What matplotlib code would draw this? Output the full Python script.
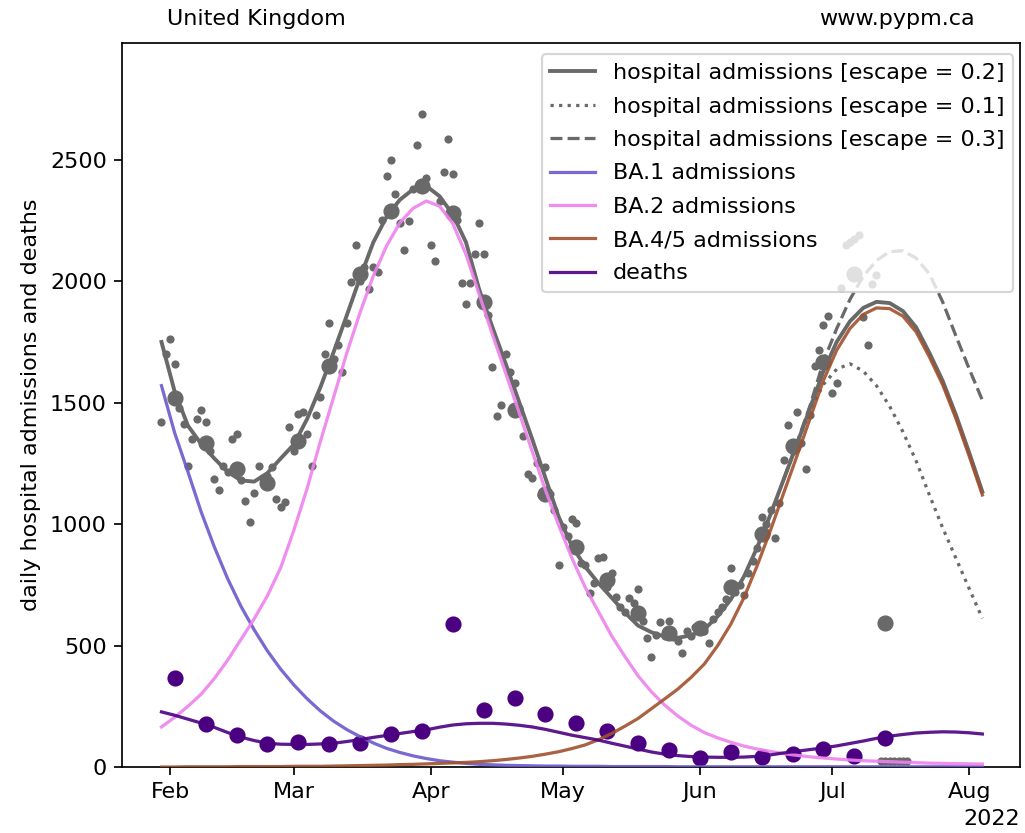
import numpy as np
import pandas as pd
import matplotlib
matplotlib.use("Agg")
import matplotlib.pyplot as plt
import matplotlib.dates as mdates

plt.rcParams['font.size'] = 10.35

model_dates = pd.date_range("2022-01-30", "2022-08-04", freq="3D")

hosp_esc02 = [1750, 1545, 1405, 1330, 1270, 1215, 1180, 1175, 1210, 1270,
              1328, 1433, 1563, 1708, 1860, 2015, 2160, 2265, 2335, 2378,
              2392, 2350, 2275, 2160, 1965, 1810, 1660, 1505, 1350, 1190,
              1030, 910, 825, 757, 697, 636, 582, 555, 537, 532,
              542, 567, 620, 690, 785, 905, 1040, 1185, 1330, 1480,
              1630, 1750, 1835, 1890, 1915, 1910, 1877, 1810, 1705, 1590,
              1450, 1295, 1133]

ba1_adm = [1570, 1375, 1215, 1050, 905, 775, 662, 565, 478, 403,
           338, 281, 231, 189, 154, 125, 99, 77, 60, 46,
           35, 26, 20, 15, 11, 9, 7, 6, 5, 4,
           4, 3, 3, 3, 2, 2, 2, 2, 2, 1,
           1, 1, 1, 1, 1, 1, 1, 1, 1, 1,
           1, 1, 1, 1, 1, 1, 1, 1, 1, 1,
           1, 1, 1]

ba2_adm = [165, 205, 250, 300, 365, 440, 525, 610, 705, 820,
           975, 1147, 1340, 1522, 1705, 1871, 2022, 2145, 2240, 2300,
           2330, 2309, 2238, 2110, 1945, 1780, 1621, 1461, 1300, 1140,
           995, 860, 740, 640, 540, 455, 375, 310, 255, 210,
           172, 142, 120, 102, 86, 74, 64, 55, 48, 42,
           37, 33, 29, 26, 24, 22, 20, 18, 16, 15,
           14, 13, 12]

ba45_adm = [0, 0, 1, 1, 1, 1, 2, 2, 2, 2,
            3, 3, 3, 4, 5, 6, 7, 8, 10, 11,
            13, 15, 17, 19, 22, 26, 31, 37, 44, 53,
            63, 76, 91, 112, 138, 168, 200, 240, 280, 321,
            369, 424, 499, 588, 698, 830, 975, 1129, 1281, 1437,
            1592, 1716, 1805, 1863, 1890, 1887, 1856, 1791, 1688, 1574,
            1435, 1281, 1120]

deaths_model = [227, 213, 197, 181, 163, 142, 123, 109, 98, 94,
                93, 93, 95, 98, 105, 113, 122, 130, 138, 146,
                153, 164, 173, 178, 180, 180, 177, 172, 165, 155,
                143, 131, 121, 111, 98, 86, 74, 62, 53, 47,
                43, 41, 40, 40, 41, 44, 50, 58, 65, 72,
                79, 87, 97, 107, 118, 127, 134, 140, 143, 145,
                144, 141, 136]

# alternative escape scenarios (split off from the main curve late June)
alt_dates = model_dates[47:]
hosp_esc01 = [1185, 1330, 1470, 1575, 1638, 1660, 1630, 1570, 1485, 1380,
              1260, 1120, 985, 860, 735, 612]
hosp_esc03 = [1185, 1335, 1490, 1670, 1805, 1925, 2020, 2085, 2122, 2125,
              2095, 2030, 1915, 1775, 1640, 1510]

# Weekly data points
weekly_dates = pd.date_range("2022-02-02", "2022-07-13", freq="7D")
weekly_adm = [1520, 1333, 1227, 1170, 1341, 1651, 2031, 2287, 2390, 2279,
              1915, 1469, 1126, 907, 770, 633, 550, 571, 742, 960,
              1320, 1668, 2031, 591]
weekly_deaths = [367, 178, 131, 93, 101, 93, 98, 134, 147, 589,
                 235, 283, 218, 182, 147, 100, 70, 36, 63, 40,
                 53, 73, 45, 118]

# Daily admissions
daily_dates = pd.date_range("2022-01-30", "2022-07-18", freq="D")
daily_adm = [1422, 1700, 1762, 1659, 1480, 1414, 1240, 1349, 1434, 1471,
             1422, 1300, 1186, 1140, 1240, 1215, 1352, 1369, 1180, 1096,
             1010, 1129, 1240, 1190, 1200, 1235, 1104, 1072, 1091, 1398,
             1300, 1455, 1463, 1369, 1240, 1450, 1525, 1700, 1827, 1680,
             1737, 1626, 1827, 1997, 2148, 2000, 2060, 1966, 2059, 2038,
             2250, 2432, 2498, 2360, 2240, 2130, 2248, 2380, 2560, 2690,
             2426, 2148, 2084, 2330, 2450, 2587, 2440, 2250, 1993, 1905,
             1993, 2114, 2240, 2114, 1860, 1647, 1444, 1490, 1700, 1627,
             1580, 1480, 1362, 1206, 1188, 1250, 1119, 1236, 1126, 1060,
             831, 990, 950, 1023, 1005, 840, 831, 715, 758, 859,
             866, 740, 797, 700, 660, 640, 694, 674, 731, 600,
             530, 454, 545, 598, 540, 601, 535, 520, 468, 560,
             540, 575, 580, 560, 509, 610, 640, 660, 690, 818,
             720, 750, 708, 798, 850, 900, 1030, 1000, 1060, 941,
             1085, 1263, 1407, 1300, 1462, 1332, 1225, 1450, 1650, 1716,
             1819, 1856, 1538, 1581, 1970, 2148, 2160, 2175, 2189, 1853,
             1737, 1990, 2025, 25, 25, 25, 25, 25, 25, 25]

# Figure
fig = plt.figure(figsize=(1025 / 155, 833 / 155), dpi=155)
ax = fig.add_axes([0.119, 0.0792, 0.876, 0.869])

# data
ax.plot(daily_dates, daily_adm, 'o', color='dimgrey', ms=2.8, zorder=2)
ax.plot(weekly_dates, weekly_adm, 'o', color='dimgrey', ms=6.5, zorder=2)
ax.plot(weekly_dates, weekly_deaths, 'o', color='indigo', ms=6.5, zorder=2)

# model
ax.plot(model_dates, hosp_esc02, color='dimgrey', lw=1.8,
        label='hospital admissions [escape = 0.2]', zorder=3)
ax.plot(alt_dates, hosp_esc01, color='dimgrey', lw=1.5, ls=':',
        label='hospital admissions [escape = 0.1]', zorder=3)
ax.plot(alt_dates, hosp_esc03, color='dimgrey', lw=1.5, ls='--',
        label='hospital admissions [escape = 0.3]', zorder=3)
ax.plot(model_dates, ba1_adm, color='slateblue', lw=1.5, alpha=0.9,
        label='BA.1 admissions', zorder=3)
ax.plot(model_dates, ba2_adm, color='violet', lw=1.5, alpha=0.9,
        label='BA.2 admissions', zorder=3)
ax.plot(model_dates, ba45_adm, color='sienna', lw=1.5, alpha=0.9,
        label='BA.4/5 admissions', zorder=3)
ax.plot(model_dates, deaths_model, color='indigo', lw=1.5, alpha=0.9,
        label='deaths', zorder=3)

# axes
base = mdates.date2num(np.datetime64('2022-02-01'))
ax.set_xlim(base - 10.95, base + 192.5)
ax.set_ylim(0, 2980)
locator = mdates.MonthLocator()
ax.xaxis.set_major_locator(locator)
ax.xaxis.set_major_formatter(mdates.ConciseDateFormatter(locator))
ax.set_ylabel('daily hospital admissions and deaths')

ax.text(0.05, 1.02, 'United Kingdom', transform=ax.transAxes,
        ha='left', va='bottom')
ax.text(0.95, 1.02, 'www.pypm.ca', transform=ax.transAxes,
        ha='right', va='bottom')

ax.legend(loc='upper right', bbox_to_anchor=(1.005, 1.0), labelspacing=0.6)

fig.savefig('out.png', dpi=155)
